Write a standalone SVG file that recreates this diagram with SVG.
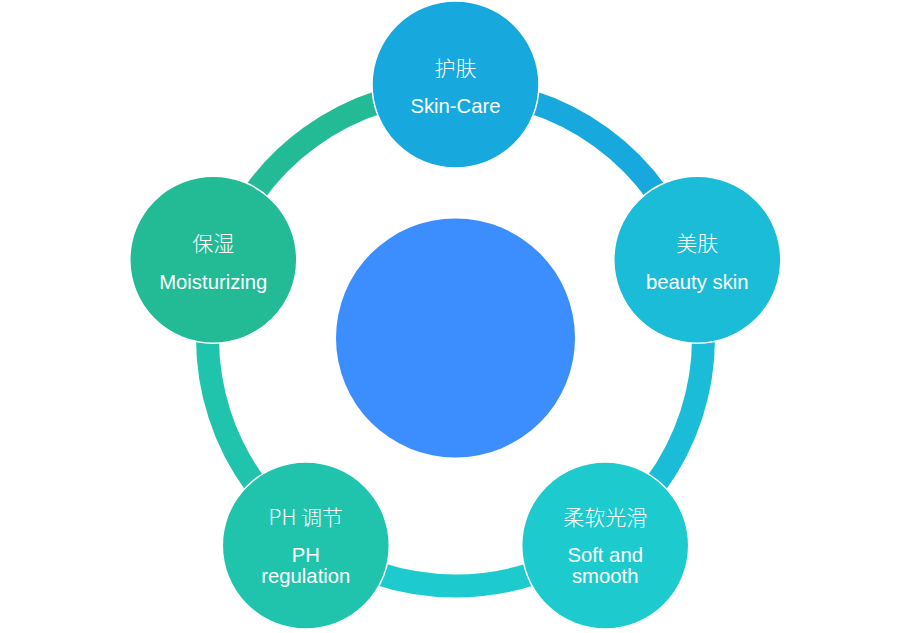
<svg xmlns="http://www.w3.org/2000/svg" width="910" height="633" viewBox="0 0 910 633">
<style>
.ring{fill:none;stroke-width:23}
.node{stroke:#ffffff;stroke-width:1.5}
.cn{font-family:"Noto Sans CJK SC","Liberation Sans",sans-serif;font-size:21px;fill:#ffffff;text-anchor:middle;font-weight:300}
.en{font-family:"Liberation Sans",Arial,sans-serif;font-size:20.3px;fill:#ffffff;text-anchor:middle}
</style>
<rect width="910" height="633" fill="#ffffff"/>
<g id="connectors">
<path class="ring" stroke="#22BB95" d="M219.64,261.36 A248,248 0 0 1 455.5,90"/>
<path class="ring" stroke="#17A9DE" d="M455.5,90 A248,248 0 0 1 691.36,261.36"/>
<path class="ring" stroke="#1ABCD8" d="M691.36,261.36 A248,248 0 0 1 601.27,538.64"/>
<path class="ring" stroke="#1DCBCE" d="M601.27,538.64 A248,248 0 0 1 309.73,538.64"/>
<path class="ring" stroke="#20C4AD" d="M309.73,538.64 A248,248 0 0 1 219.64,261.36"/>
</g>
<g id="center">
<circle cx="455.5" cy="338" r="119.5" fill="#3C8EFF"/>
</g>
<g id="node-top">
<circle class="node" cx="455.5" cy="84.5" r="83.5" fill="#17A9DE"/>
<text class="cn" x="455.5" y="75.5">护肤</text>
<text class="en" x="455.5" y="113">Skin-Care</text>
</g>
<g id="node-right">
<circle class="node" cx="697.3" cy="259.7" r="83.5" fill="#1ABCD8"/>
<text class="cn" x="697.3" y="250.5">美肤</text>
<text class="en" x="697.3" y="288.5">beauty skin</text>
</g>
<g id="node-bottom-right">
<circle class="node" cx="605.2" cy="545.5" r="83.5" fill="#1DCBCE"/>
<text class="cn" x="605.2" y="524.5">柔软光滑</text>
<text class="en" x="605.2" y="562">Soft and</text>
<text class="en" x="605.2" y="583">smooth</text>
</g>
<g id="node-bottom-left">
<circle class="node" cx="305.8" cy="545.5" r="83.5" fill="#20C4AD"/>
<text class="cn" x="305.8" y="524.5">PH 调节</text>
<text class="en" x="305.8" y="562">PH</text>
<text class="en" x="305.8" y="583">regulation</text>
</g>
<g id="node-left">
<circle class="node" cx="213.3" cy="259.7" r="83.5" fill="#22BB95"/>
<text class="cn" x="213.3" y="250.5">保湿</text>
<text class="en" x="213.3" y="288.5">Moisturizing</text>
</g>
</svg>
